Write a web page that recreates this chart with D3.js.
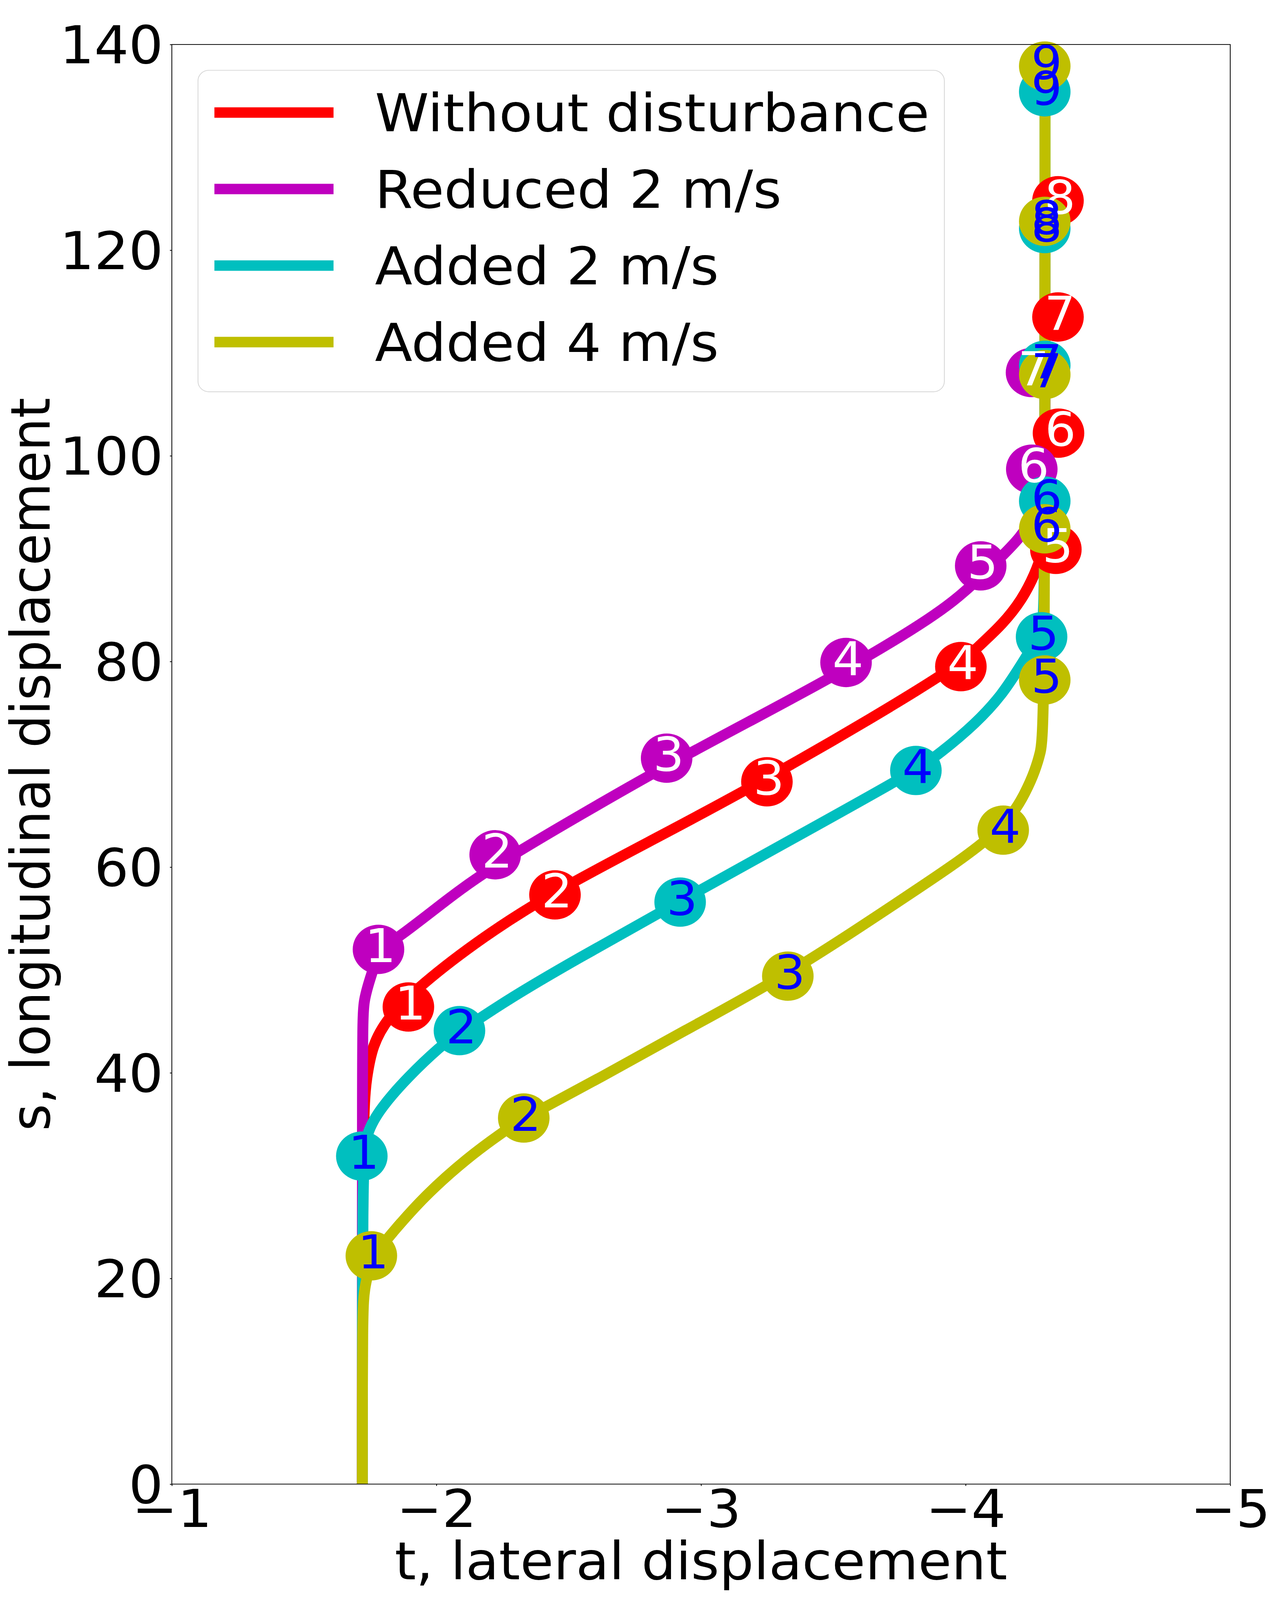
<!DOCTYPE html>
<html>
<head>
<meta charset="utf-8">
<script src="https://cdn.jsdelivr.net/npm/d3@7"></script>
<style>
  html, body { margin: 0; padding: 0; background: #ffffff; overflow: hidden; }
  svg text { font-family: "DejaVu Sans", sans-serif; }
</style>
</head>
<body>
<div id="chart"></div>
<script>
// series names (legend order = drawing order)
var seriesNames = ["Without disturbance", "Reduced 2 m/s", "Added 2 m/s", "Added 4 m/s"];

// trajectories: [t, s]
var redPath = [[-1.72, 0], [-1.72, 36], [-1.736, 39.6], [-1.757, 42.6], [-1.813, 45.3], [-1.937, 48.5],
    [-2.174, 53.2], [-2.448, 57.7], [-2.889, 63.6], [-3.249, 68.6], [-3.647, 74.5],
    [-3.982, 79.8], [-4.05, 81.5], [-4.139, 83.6], [-4.213, 86.0], [-4.262, 88.5], [-4.29, 90.5],
    [-4.30, 92.5], [-4.30, 126]];
var magentaPath = [[-1.72, 0], [-1.72, 44], [-1.723, 47.1], [-1.756, 49.6], [-1.781, 51.9], [-1.858, 53.2],
    [-1.994, 55.9], [-2.174, 59.5], [-2.565, 65.4], [-2.870, 69.9], [-3.214, 74.6], [-3.548, 79.2],
    [-3.893, 84.55], [-4.016, 87.2], [-4.144, 90.4], [-4.208, 92.1], [-4.255, 94.0], [-4.29, 96.5],
    [-4.30, 99], [-4.30, 108]];
var cyanPath = [[-1.72, 0], [-1.72, 31], [-1.734, 34.2], [-1.790, 36.6], [-1.892, 39.6], [-2.016, 42.6],
    [-2.087, 44.0], [-2.287, 47.4], [-2.513, 50.8], [-2.921, 56.7], [-3.322, 62.4], [-3.812, 69.4],
    [-3.90, 71.0], [-4.04, 74.0], [-4.139, 76.8], [-4.208, 79.6], [-4.262, 81.8], [-4.29, 83.5],
    [-4.30, 85], [-4.30, 135.5]];
var yellowPath = [[-1.72, 0], [-1.72, 17], [-1.728, 19.1], [-1.754, 22.0], [-1.835, 24.5], [-1.948, 27.85],
    [-2.118, 31.77], [-2.265, 34.48], [-2.330, 35.6], [-2.626, 39.6], [-2.922, 43.9], [-3.328, 49.5],
    [-3.755, 56.8], [-4.142, 63.4], [-4.232, 67.5], [-4.262, 69.4], [-4.282, 71.0], [-4.30, 73.5],
    [-4.30, 138]];

// numbered markers: [t, s]
var redMarks = [[-1.894, 46.4], [-2.448, 57.3], [-3.249, 68.3], [-3.982, 79.5], [-4.341, 90.9],
    [-4.351, 102.2], [-4.349, 113.5], [-4.349, 124.8]];
var magentaMarks = [[-1.781, 52.0], [-2.222, 61.2], [-2.870, 70.6], [-3.548, 79.9], [-4.057, 89.3],
    [-4.25, 98.7], [-4.249, 108.1]];
var cyanMarks = [[-1.718, 31.9], [-2.087, 44.1], [-2.921, 56.6], [-3.812, 69.4], [-4.287, 82.4],
    [-4.299, 95.6], [-4.299, 108.8], [-4.299, 122.1], [-4.299, 135.4]];
var yellowMarks = [[-1.754, 22.2], [-2.330, 35.6], [-3.328, 49.4], [-4.142, 63.6], [-4.299, 78.2],
    [-4.299, 92.9], [-4.299, 107.9], [-4.299, 122.8], [-4.299, 137.9]];

var xTicks = [-1, -2, -3, -4, -5];
var yTicks = [0, 20, 40, 60, 80, 100, 120, 140];

var colors = ["#ff0000", "#bf00bf", "#00bfbf", "#bfbf00"];
var labelColors = ["#ffffff", "#ffffff", "#0000ff", "#0000ff"];

var paths = [redPath, magentaPath, cyanPath, yellowPath];
var marks = [redMarks, magentaMarks, cyanMarks, yellowMarks];

var W = 3280, H = 4280;
var margin = {top: 119, right: 130, bottom: 310, left: 440},
    width = W - margin.left - margin.right,
    height = H - margin.top - margin.bottom;

// fit the whole figure into whatever the viewport really is
var vw = window.innerWidth || W,
    vh = window.innerHeight || H;

var svg = d3.select("#chart")
    .append("svg")
    .attr("width", vw)
    .attr("height", vh)
    .attr("viewBox", "0 0 " + W + " " + H)
    .attr("preserveAspectRatio", "none")
    .style("display", "block");

svg.append("rect")
    .attr("width", W)
    .attr("height", H)
    .attr("fill", "#ffffff");

var g = svg.append("g")
    .attr("transform", "translate(" + margin.left + "," + margin.top + ")");

var x = d3.scaleLinear().domain([-1, -5]).range([0, width]);
var y = d3.scaleLinear().domain([0, 140]).range([height, 0]);

g.append("clipPath")
    .attr("id", "plotClip")
    .append("rect")
    .attr("width", width)
    .attr("height", height);

// axes
var xAxis = g.append("g")
    .attr("transform", "translate(0," + height + ")")
    .call(d3.axisBottom(x).tickValues(xTicks).tickSize(5).tickFormat(d3.format("d")));
xAxis.select(".domain").remove();
xAxis.selectAll("line").attr("stroke", "#000").attr("stroke-width", 2);
xAxis.selectAll("text")
    .attr("y", 115)
    .attr("dy", null)
    .attr("fill", "#000")
    .style("font-size", "139px")
    .style("font-family", "DejaVu Sans");

var yAxis = g.append("g")
    .call(d3.axisLeft(y).tickValues(yTicks).tickSize(5).tickFormat(d3.format("d")));
yAxis.select(".domain").remove();
yAxis.selectAll("line").attr("stroke", "#000").attr("stroke-width", 2);
yAxis.selectAll("text")
    .attr("x", -22)
    .attr("dy", "0.36em")
    .attr("fill", "#000")
    .style("font-size", "139px")
    .style("font-family", "DejaVu Sans");

// trajectories
var line = d3.line()
    .x(function(d) { return x(d[0]); })
    .y(function(d) { return y(d[1]); })
    .curve(d3.curveBasis);

var plot = g.append("g").attr("clip-path", "url(#plotClip)");

plot.selectAll("path.traj")
    .data(paths)
    .enter()
    .append("path")
    .attr("class", "traj")
    .attr("d", function(d) { return line(d); })
    .attr("fill", "none")
    .attr("stroke", function(d, i) { return colors[i]; })
    .attr("stroke-width", 28)
    .attr("stroke-linejoin", "round");

// marker circles, then all numbers on top
var markGroups = g.selectAll("g.marks")
    .data(marks)
    .enter()
    .append("g")
    .attr("class", "marks");

markGroups.selectAll("circle")
    .data(function(d, i) { return d.map(function(p) { return {p: p, k: i}; }); })
    .enter()
    .append("circle")
    .attr("cx", function(d) { return x(d.p[0]); })
    .attr("cy", function(d) { return y(d.p[1]); })
    .attr("r", 66)
    .attr("fill", function(d) { return colors[d.k]; });

var numGroups = g.selectAll("g.nums")
    .data(marks)
    .enter()
    .append("g")
    .attr("class", "nums");

numGroups.selectAll("text")
    .data(function(d, i) { return d.map(function(p, j) { return {p: p, k: i, n: j + 1}; }); })
    .enter()
    .append("text")
    .attr("x", function(d) { return x(d.p[0]) + 5; })
    .attr("y", function(d) { return y(d.p[1]) + 34; })
    .attr("text-anchor", "middle")
    .attr("fill", function(d) { return labelColors[d.k]; })
    .style("font-size", "125px")
    .text(function(d) { return d.n; });

// frame
g.append("rect")
    .attr("width", width)
    .attr("height", height)
    .attr("fill", "none")
    .attr("stroke", "#000")
    .attr("stroke-width", 2);

// axis titles
svg.append("text")
    .attr("x", margin.left + width / 2)
    .attr("y", 4225)
    .attr("text-anchor", "middle")
    .style("font-size", "139px")
    .text("t, lateral displacement");

svg.append("text")
    .attr("transform", "translate(127," + (margin.top + height / 2) + ") rotate(-90)")
    .attr("text-anchor", "middle")
    .style("font-size", "139px")
    .text("s, longitudinal displacement");

// legend
var legend = svg.append("g");
legend.append("rect")
    .attr("x", 507)
    .attr("y", 188)
    .attr("width", 1911)
    .attr("height", 860)
    .attr("rx", 28)
    .attr("fill", "#ffffff")
    .attr("fill-opacity", 0.8)
    .attr("stroke", "#d6d6d6")
    .attr("stroke-width", 2);

var rows = legend.selectAll("g.row")
    .data(seriesNames)
    .enter()
    .append("g")
    .attr("class", "row")
    .attr("transform", function(d, i) { return "translate(0," + (301 + i * 204.7) + ")"; });

rows.append("line")
    .attr("x1", 549)
    .attr("x2", 854)
    .attr("stroke", function(d, i) { return colors[i]; })
    .attr("stroke-width", 28);

rows.append("text")
    .attr("x", 960)
    .attr("y", 50)
    .style("font-size", "140px")
    .text(function(d) { return d; });
</script>
</body>
</html>
